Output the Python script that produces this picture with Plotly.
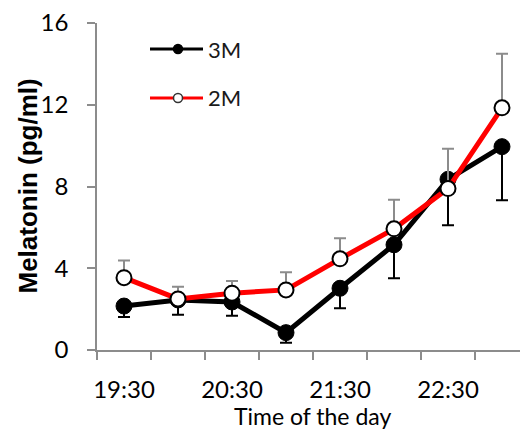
import plotly.graph_objects as go

times = ["19:30", "20:00", "20:30", "21:00", "21:30", "22:00", "22:30", "23:00"]
m3 = [2.15, 2.45, 2.35, 0.85, 3.02, 5.15, 8.35, 9.95]
m3_err_minus = [0.53, 0.72, 0.67, 0.49, 0.98, 1.64, 2.25, 2.62]
m2 = [3.54, 2.5, 2.78, 2.94, 4.46, 5.93, 7.9, 11.85]
m2_err_plus = [0.84, 0.6, 0.6, 0.86, 1.01, 1.42, 1.95, 2.65]
y_ticks = [0, 4, 8, 12, 16]

xi = list(range(len(times)))

TICKFONT = dict(family="Lato", size=24, color="#000000")
GRAY = "#8C8C8C"

fig = go.Figure()
fig.add_trace(go.Scatter(
    x=xi, y=m3, name="3M", mode="lines+markers",
    line=dict(color="#000000", width=5),
    marker=dict(size=16, color="#000000", line=dict(color="#000000", width=1)),
    error_y=dict(type="data", symmetric=False, array=[0] * len(m3), arrayminus=m3_err_minus,
                 color="#000000", thickness=2, width=6),
    showlegend=False,
))
fig.add_trace(go.Scatter(
    x=xi, y=m2, name="2M", mode="lines+markers",
    line=dict(color="#FF0000", width=5),
    marker=dict(size=15, color="#FFFFFF", line=dict(color="#000000", width=2)),
    error_y=dict(type="data", symmetric=False, array=m2_err_plus, arrayminus=[0] * len(m2),
                 color=GRAY, thickness=2, width=6),
    showlegend=False,
))

L, T, B = 97, 23, 82
W, H = 520, 432
pw, ph = W - L, H - T - B

def px(x):
    return (x - L) / pw

def py(y):
    return (H - B - y) / ph

shapes = []
annotations = []
legend_items = [("3M", "#000000", "#000000", "#000000", 49), ("2M", "#FF0000", "#FFFFFF", "#333333", 98)]
for name, lc, fc, oc, yy in legend_items:
    shapes.append(dict(type="line", xref="paper", yref="paper", x0=px(150), x1=px(203), y0=py(yy), y1=py(yy),
                       line=dict(color=lc, width=3)))
    shapes.append(dict(type="circle", xref="paper", yref="paper", x0=px(173.5), x1=px(182.5),
                       y0=py(yy + 4.5), y1=py(yy - 4.5), fillcolor=fc, line=dict(color=oc, width=1.5)))
    annotations.append(dict(xref="paper", yref="paper", x=px(206), y=py(yy), xanchor="left", yanchor="middle",
                            text=name, showarrow=False, font=dict(family="Lato", size=22, color="#1a1a1a")))

annotations.append(dict(xref="paper", yref="paper", x=0, y=0.5, xshift=-70, xanchor="center", yanchor="middle",
                        text="Melatonin (pg/ml)", textangle=-90, showarrow=False,
                        font=dict(family="Liberation Sans", size=26, color="#000000", weight="bold")))
annotations.append(dict(xref="paper", yref="paper", x=px(312), y=0, yshift=-66, xanchor="center", yanchor="middle",
                        text="Time of the day", showarrow=False, font=dict(family="Lato", size=23, color="#000000")))

fig.update_layout(
    width=W, height=H,
    margin=dict(l=L, r=0, t=T, b=B, pad=0),
    paper_bgcolor="#FFFFFF", plot_bgcolor="#FFFFFF",
    shapes=shapes, annotations=annotations,
    xaxis=dict(
        range=[-0.5, -0.5 + pw / 54.0], showgrid=False, zeroline=False,
        showline=True, linecolor=GRAY, linewidth=1.5,
        tickmode="array", tickvals=xi[::2], ticktext=times[::2], ticks="", ticklen=0,
        tickfont=TICKFONT, ticklabelstandoff=17,
        minor=dict(tickmode="linear", tick0=-0.5, dtick=1, ticks="outside", ticklen=8, tickcolor=GRAY,
                   tickwidth=1.5, showgrid=False),
    ),
    yaxis=dict(
        range=[0, 16], showgrid=False, zeroline=False,
        showline=True, linecolor=GRAY, linewidth=1.5,
        tickmode="array", tickvals=y_ticks, ticks="outside", ticklen=8, tickcolor=GRAY, tickwidth=1.5,
        tickfont=TICKFONT, ticklabelstandoff=14,
    ),
)

fig.write_html("out.html")
